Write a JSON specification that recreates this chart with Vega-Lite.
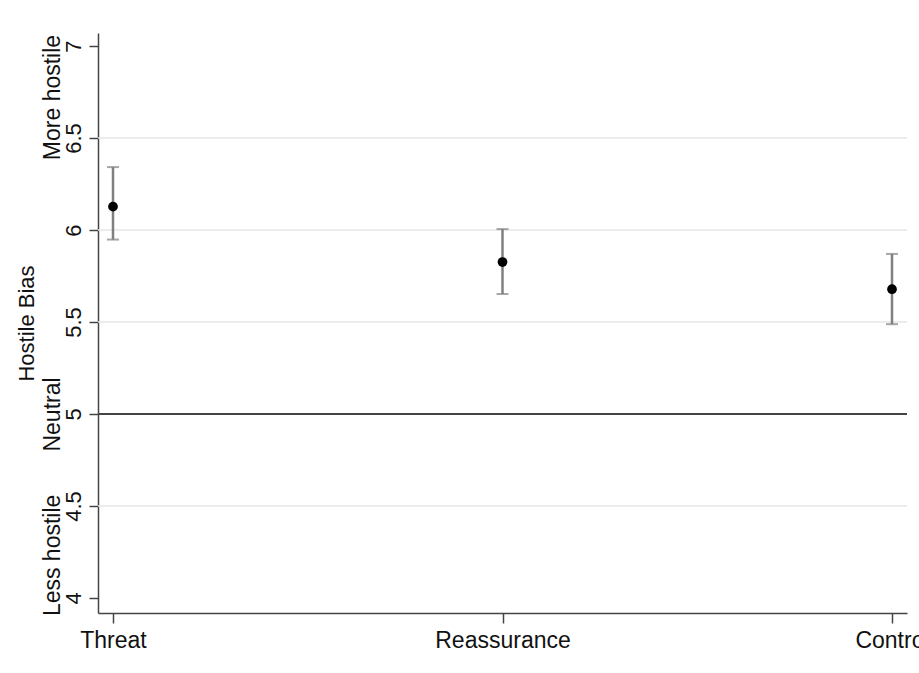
{
  "$schema": "https://vega.github.io/schema/vega-lite/v6.json",
  "autosize": "none",
  "padding": {"left": 98, "top": 33, "right": 12, "bottom": 60},
  "width": 809,
  "height": 580,
  "background": "white",
  "config": {
    "view": {"stroke": null},
    "font": "Liberation Sans",
    "axis": {"labelFont": "Liberation Sans", "titleFont": "Liberation Sans", "labelColor": "#111", "titleColor": "#111", "titleFontWeight": "normal"}
  },
  "data": {
    "values": [
      {"group": "Threat", "mean": 6.127, "lo": 5.948, "hi": 6.342},
      {"group": "Reassurance", "mean": 5.826, "lo": 5.652, "hi": 6.005},
      {"group": "Control", "mean": 5.678, "lo": 5.488, "hi": 5.870}
    ]
  },
  "layer": [
    {
      "data": {"values": [{"g": 4.5}, {"g": 5.5}, {"g": 6}, {"g": 6.5}]},
      "mark": {"type": "rule", "color": "#e6e6e6", "strokeWidth": 1.5},
      "encoding": {
        "y": {"field": "g", "type": "quantitative", "scale": {"domain": [3.918, 7.071], "nice": false, "zero": false}, "axis": null}
      }
    },
    {
      "mark": {"type": "rule", "color": "#444444", "strokeWidth": 2},
      "encoding": {
        "y": {"datum": 5, "type": "quantitative", "axis": null}
      }
    },
    {
      "mark": {"type": "errorbar", "ticks": {"size": 12, "color": "#808080", "thickness": 2}, "rule": {"color": "#808080", "strokeWidth": 2.5}},
      "encoding": {
        "x": {
          "field": "group", "type": "nominal", "sort": null, "scale": {"type": "point", "padding": 0.0385},
          "axis": {
            "title": null, "labelAngle": 0, "labelFontSize": 23, "tickSize": 10, "labelPadding": 6,
            "domainColor": "#444444", "domainWidth": 1.5, "tickColor": "#444444", "tickWidth": 1.5, "grid": false
          }
        },
        "y": {
          "field": "lo", "type": "quantitative",
          "axis": {
            "orient": "left",
            "values": [4.234, 5, 6.723],
            "labelExpr": "datum.value < 4.5 ? 'Less hostile' : (datum.value > 6 ? 'More hostile' : 'Neutral')",
            "labelAngle": 270,
            "labelAlign": "center",
            "labelBaseline": "alphabetic",
            "labelFontSize": 23,
            "labelPadding": 39,
            "ticks": false,
            "tickSize": 0,
            "domain": false,
            "grid": false,
            "labelOverlap": false,
            "labelBound": false,
            "labelFlush": false,
            "title": "Hostile Bias",
            "titleFontSize": 22,
            "titleAngle": 270,
            "titleBaseline": "alphabetic",
            "titleX": -65
          }
        },
        "y2": {"field": "hi"}
      }
    },
    {
      "mark": {"type": "point", "filled": true, "color": "black", "opacity": 1, "size": 95},
      "encoding": {
        "x": {
          "field": "group", "type": "nominal", "sort": null,
          "axis": {
            "title": null, "labelAngle": 0, "labelFontSize": 23, "tickSize": 10, "labelPadding": 6,
            "domainColor": "#444444", "domainWidth": 1.5, "tickColor": "#444444", "tickWidth": 1.5, "grid": false
          }
        },
        "y": {
          "field": "mean", "type": "quantitative",
          "axis": {
            "orient": "left",
            "values": [4, 4.5, 5, 5.5, 6, 6.5, 7],
            "format": "~g",
            "labelAngle": 270,
            "labelAlign": "center",
            "labelBaseline": "alphabetic",
            "labelFontSize": 22,
            "labelPadding": 9,
            "tickSize": 9,
            "tickColor": "#444444",
            "tickWidth": 1.5,
            "domainColor": "#444444",
            "domainWidth": 1.5,
            "grid": false,
            "labelOverlap": false,
            "labelFlush": false,
            "title": null
          }
        }
      }
    }
  ],
  "resolve": {"axis": {"y": "independent"}}
}
